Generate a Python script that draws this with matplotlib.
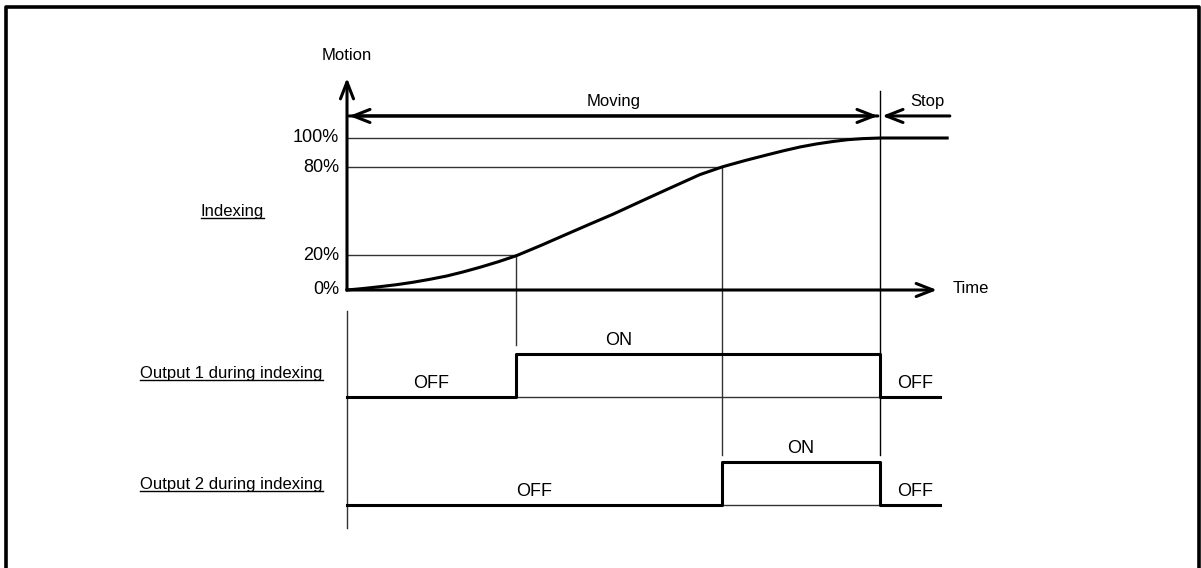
import numpy as np
import matplotlib
matplotlib.use('Agg')
import matplotlib.pyplot as plt
from matplotlib.lines import Line2D

plt.rcParams['font.family'] = ['Liberation Sans', 'DejaVu Sans']

# motion profile (time: 0..100 = moving phase, height in diagram units)
curve_t = [0, 3.1, 6.2, 9.3, 12.4, 15.5, 18.7, 21.8, 25.0, 28.4, 31.8, 36.5, 41.2,
           45.6, 50.0, 55.0, 60.0, 66.2, 70.5, 74.6, 78.7, 81.9, 85.0, 88.1, 91.2,
           94.0, 96.8, 100, 112.6]
curve_h = [0, 1.0, 2.2, 3.5, 5.1, 7.0, 9.2, 11.9, 15.0, 18.6, 22.6, 29.5, 36.7,
           43.4, 50.0, 58.1, 66.1, 75.9, 81.1, 85.1, 88.8, 91.6, 94.1, 96.1, 97.7,
           98.9, 99.6, 100, 100]

level_h = [0, 23.0, 80.9, 100]
level_labels = ['0%', '20%', '80%', '100%']

t20, t80, t_stop, t_end = 31.7, 70.4, 100.0, 111.3

out1_t = [0, t20, t20, t_stop, t_stop, t_end]
out1_v = [0, 0, 1, 1, 0, 0]
out2_t = [0, t80, t80, t_stop, t_stop, t_end]
out2_v = [0, 0, 1, 1, 0, 0]

row1_base, row2_base, row_height = -70.4, -141.4, 28.2

# pixel scale of the diagram
PX_T = 5.33
PX_H = 1.52
W, H = 1201, 568
X0, Y0 = 347, 290

fig = plt.figure(figsize=(W / 100, H / 100), dpi=100)
ax = fig.add_axes([0, 0, 1, 1])
ax.set_xlim(-X0 / PX_T, (W - X0) / PX_T)
ax.set_ylim(-(H - Y0) / PX_H, Y0 / PX_H)
ax.axis('off')

thick = 2.2
thin = 1.0
thin_c = '#333333'

def arrow(start, end):
    ax.annotate('', xy=end, xytext=start,
                arrowprops=dict(arrowstyle='->,head_length=1.2,head_width=0.47',
                                lw=thick, color='black', shrinkA=0, shrinkB=0))

# axes
arrow((0, 0), (0, 139.5))
arrow((0, 0), (110.7, 0))
arrow((99.6, 114.5), (0.4, 114.5))
arrow((0.4, 114.5), (99.6, 114.5))
arrow((113.1, 114.5), (100.4, 114.5))

# reference lines
for h, t in zip(level_h[1:], [t20, t80, t_stop]):
    ax.plot([0, t], [h, h], color=thin_c, lw=thin)
ax.plot([t20, t20], [level_h[1], -36.2], color=thin_c, lw=thin)
ax.plot([t80, t80], [level_h[2], -108.6], color=thin_c, lw=thin)
ax.plot([t_stop, t_stop], [131, -108.6], color='black', lw=thin)
ax.plot([0, 0], [-14, -156.6], color=thin_c, lw=thin)
ax.plot([t20, t_stop], [row1_base, row1_base], color=thin_c, lw=thin)
ax.plot([t80, t_stop], [row2_base, row2_base], color=thin_c, lw=thin)

# motion curve
ax.plot(curve_t, curve_h, color='black', lw=thick, solid_joinstyle='round')

# output signals
ax.plot(out1_t, row1_base + row_height * np.array(out1_v), color='black', lw=thick)
ax.plot(out2_t, row2_base + row_height * np.array(out2_v), color='black', lw=thick)

# labels
for h, lab in zip(level_h, level_labels):
    ax.text(-1.5, h, lab, ha='right', va='center', fontsize=13)
ax.text(0, 154.6, 'Motion', ha='center', va='center', fontsize=12)
ax.text(50.0, 123.9, 'Moving', ha='center', va='center', fontsize=12)
ax.text(108.9, 123.9, 'Stop', ha='center', va='center', fontsize=12)
ax.text(113.7, 1.3, 'Time', ha='left', va='center', fontsize=12)

ax.text(15.8, -61.4, 'OFF', ha='center', va='center', fontsize=13)
ax.text(51.0, -33.4, 'ON', ha='center', va='center', fontsize=13)
ax.text(106.6, -61.4, 'OFF', ha='center', va='center', fontsize=13)
ax.text(35.1, -132.7, 'OFF', ha='center', va='center', fontsize=13)
ax.text(85.2, -104.1, 'ON', ha='center', va='center', fontsize=13)
ax.text(106.6, -132.7, 'OFF', ha='center', va='center', fontsize=13)

# underlined row labels
under = []
under.append(ax.text(-27.4, 48.7, 'Indexing', ha='left', va='baseline', fontsize=12))
under.append(ax.text(-38.8, -57.9, 'Output 1 during indexing', ha='left', va='baseline', fontsize=12))
under.append(ax.text(-38.8, -130.9, 'Output 2 during indexing', ha='left', va='baseline', fontsize=12))
fig.canvas.draw()
inv = ax.transData.inverted()
for txt in under:
    bb = txt.get_window_extent()
    x0 = inv.transform((bb.x0, 0))[0]
    x1 = inv.transform((bb.x1, 0))[0]
    y = txt.get_position()[1] - 2 / PX_H
    ax.plot([x0, x1], [y, y], color='black', lw=1.0)

# outer frame (top, left, right)
fig.add_artist(Line2D([6 / W, 6 / W, 1198.5 / W, 1198.5 / W],
                      [0, 1 - 6.5 / H, 1 - 6.5 / H, 0],
                      transform=fig.transFigure, color='black', lw=2.6))

fig.savefig('out.png', dpi=100)
